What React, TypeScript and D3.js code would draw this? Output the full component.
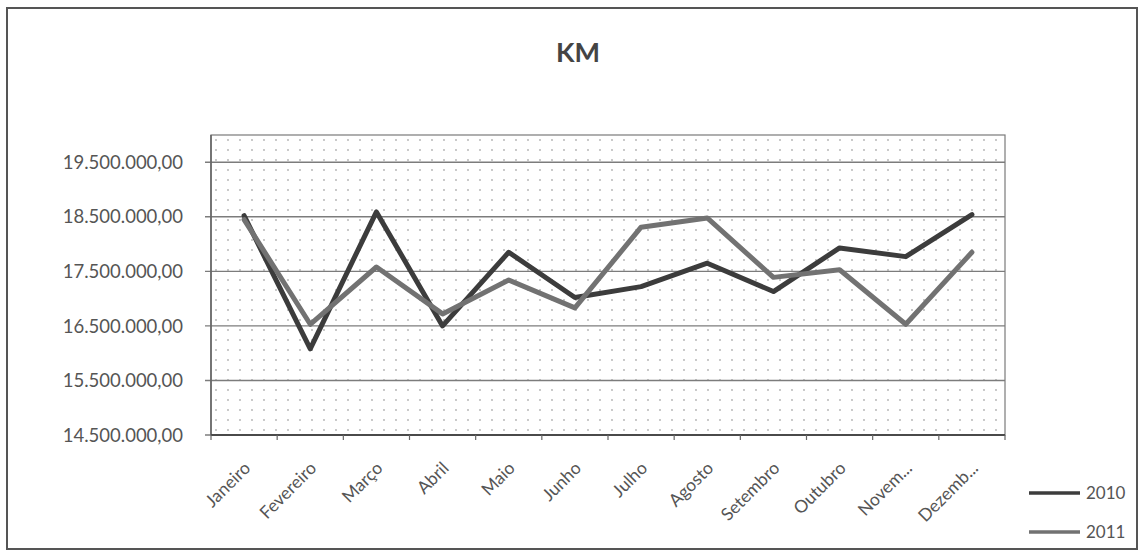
import React from "react";
import * as d3 from "d3";

const months = [
  "Janeiro", "Fevereiro", "Março", "Abril", "Maio", "Junho",
  "Julho", "Agosto", "Setembro", "Outubro", "Novem...", "Dezemb...",
];
const km2010 = [18520000, 16080000, 18590000, 16500000, 17850000, 17020000, 17220000, 17650000, 17130000, 17930000, 17770000, 18540000];
const km2011 = [18450000, 16530000, 17580000, 16720000, 17340000, 16830000, 18310000, 18480000, 17390000, 17530000, 16530000, 17850000];
const yTicks = [14500000, 15500000, 16500000, 17500000, 18500000, 19500000];
const seriesNames = ["2010", "2011"];

const W = 1140;
const H = 551;
const plot = { left: 211, right: 1005, top: 135, bottom: 435 };
const FONT = "Lato, 'Open Sans', sans-serif";

const fmt = (v: number) => {
  const s = Math.round(v).toString().replace(/\B(?=(\d{3})+(?!\d))/g, ".");
  return s + ",00";
};

export default function App() {
  const x = d3.scaleBand<string>().domain(months).range([plot.left, plot.right]);
  const y = d3.scaleLinear().domain([14500000, 20000000]).range([plot.bottom, plot.top]);
  const cx = (m: string) => (x(m) as number) + x.bandwidth() / 2;
  const line = d3
    .line<number>()
    .x((_, i) => cx(months[i]))
    .y((d) => y(d));

  const series = [
    { name: seriesNames[0], data: km2010, color: "#3c3c3c" },
    { name: seriesNames[1], data: km2011, color: "#727272" },
  ];

  const boundaries = months.map((m) => x(m) as number).concat([plot.right]);

  return (
    <svg
      width={W}
      height={H}
      style={{ position: "absolute", left: 0, top: 0, background: "#fff" }}
      fontFamily={FONT}
    >
      <defs>
        <pattern id="dots" width={12} height={10} patternUnits="userSpaceOnUse" x={plot.left} y={plot.top}>
          <circle cx={5} cy={5} r={0.9} fill="#b0b0b0" />
        </pattern>
      </defs>
      <rect x={7} y={8} width={1130} height={541} fill="#fff" stroke="#555" strokeWidth={2} />
      <text x={578} y={62} textAnchor="middle" fontSize={27} fontWeight="bold" fill="#444">
        KM
      </text>

      <rect
        x={plot.left}
        y={plot.top}
        width={plot.right - plot.left}
        height={plot.bottom - plot.top}
        fill="url(#dots)"
        stroke="#7a7a7a"
        strokeWidth={1.2}
      />

      {yTicks.map((t) => (
        <g key={t}>
          <line x1={plot.left - 6} x2={plot.right} y1={y(t)} y2={y(t)} stroke="#7c7c7c" strokeWidth={1.4} />
          <text x={183} y={y(t)} dy="0.36em" textAnchor="end" fontSize={18.5} fill="#555">
            {fmt(t)}
          </text>
        </g>
      ))}
      <line x1={plot.left} x2={plot.left} y1={plot.top} y2={plot.bottom} stroke="#666" strokeWidth={1.6} />
      <line x1={plot.left} x2={plot.right} y1={plot.bottom} y2={plot.bottom} stroke="#4a4a4a" strokeWidth={2} />
      {boundaries.map((b, i) => (
        <line key={i} x1={b} x2={b} y1={plot.bottom} y2={plot.bottom + 5} stroke="#666" strokeWidth={1.2} />
      ))}

      {months.map((m) => (
        <text
          key={m}
          transform={`translate(${cx(m) + 3},${plot.bottom + 30}) rotate(-45)`}
          textAnchor="end"
          dy="0.35em"
          fontSize={17.5}
          fill="#555"
        >
          {m}
        </text>
      ))}

      {series.map((s) => (
        <path
          key={s.name}
          d={line(s.data) || ""}
          fill="none"
          stroke={s.color}
          strokeWidth={5}
          strokeLinejoin="round"
          strokeLinecap="round"
        />
      ))}

      {series.map((s, i) => (
        <g key={s.name} transform={`translate(1029,${493 + i * 39})`}>
          <line x1={0} x2={51} y1={0} y2={0} stroke={s.color} strokeWidth={3.5} />
          <text x={57} y={0} dy="0.36em" fontSize={17} fill="#555">
            {s.name}
          </text>
        </g>
      ))}
    </svg>
  );
}
